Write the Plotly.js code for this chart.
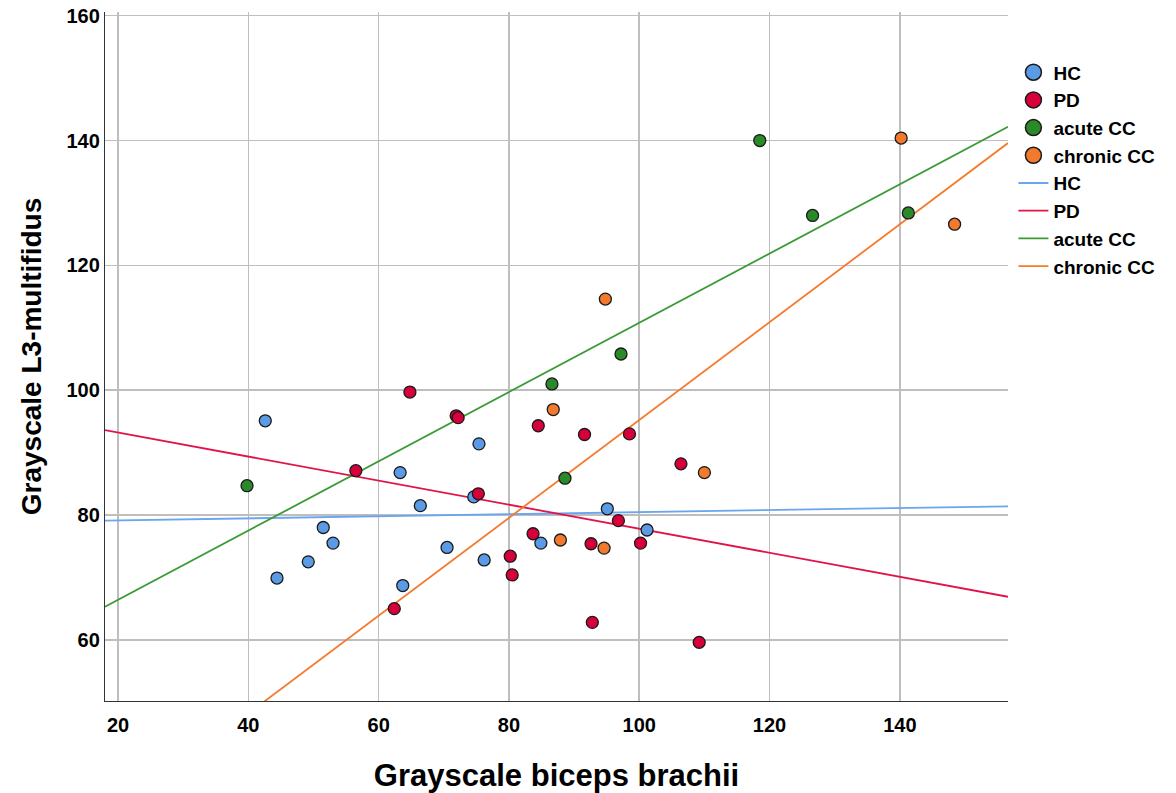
<!DOCTYPE html>
<html>
<head>
<meta charset="utf-8">
<script src="https://cdn.plot.ly/plotly-3.0.1.min.js"></script>
<style>html,body{margin:0;padding:0;background:#fff;}#chart{width:1176px;height:793px;}</style>
</head>
<body>
<div id="chart"></div>
<script>
// Group names
const groups = ["HC", "PD", "acute CC", "chronic CC"];

// HC points
const hcX = [42.6, 44.4, 49.2, 51.5, 53.0, 63.3, 63.7, 66.4, 70.5, 74.6, 75.4, 76.2, 84.9, 95.1, 101.2];
const hcY = [95.1, 69.9, 72.5, 78.0, 75.5, 86.8, 68.7, 81.5, 74.8, 82.9, 91.4, 72.8, 75.5, 81.0, 77.6];

// PD points
const pdX = [56.5, 62.4, 64.8, 71.9, 72.2, 75.3, 84.5, 91.6, 98.5, 106.4, 96.8, 83.7, 80.2, 80.5, 92.6, 100.2, 92.8, 109.2];
const pdY = [87.1, 65.0, 99.7, 95.9, 95.6, 83.4, 94.3, 92.9, 93.0, 88.2, 79.1, 77.0, 73.4, 70.4, 75.4, 75.5, 62.8, 59.6];

// acute CC points
const acX = [39.8, 86.6, 88.6, 97.2, 118.5, 126.6, 141.3];
const acY = [84.7, 101.0, 85.9, 105.8, 140.0, 128.0, 128.4];

// chronic CC points
const ccX = [86.8, 94.8, 87.9, 94.6, 110.0, 140.2, 148.4];
const ccY = [96.9, 114.6, 76.0, 74.7, 86.8, 140.4, 126.6];

// Fit line endpoints
const fitX = [18.0, 156.6];
const hcFitY = [79.1, 81.4];
const pdFitY = [93.6, 66.9];
const acFitY = [65.3, 142.2];
const ccFitY = [30.95, 139.6];

// Tick values
const xTicks = [20, 40, 60, 80, 100, 120, 140];
const yTicks = [60, 80, 100, 120, 140, 160];

const markerColors = ["#5B9BE6", "#D8003A", "#2A8A2A", "#F27A2E"];
const lineColors = ["#6AA6F0", "#E0144A", "#3A9A34", "#F57A2C"];

const ptsX = [hcX, pdX, acX, ccX];
const ptsY = [hcY, pdY, acY, ccY];
const fitsY = [hcFitY, pdFitY, acFitY, ccFitY];

const FONT = "Liberation Sans, Arial, sans-serif";

const traces = [];
// legend markers (legend only entries)
groups.forEach((g, i) => {
  traces.push({
    x: [null], y: [null], type: "scatter", mode: "markers", name: g,
    marker: {size: 20, color: markerColors[i], line: {color: "#1a1a1a", width: 1.5}},
    legendrank: i + 1, hoverinfo: "skip"
  });
});
// fit lines
groups.forEach((g, i) => {
  traces.push({
    x: fitX, y: fitsY[i], type: "scatter", mode: "lines", name: g,
    line: {color: lineColors[i], width: 1.8},
    legendrank: i + 5
  });
});
// points
groups.forEach((g, i) => {
  traces.push({
    x: ptsX[i], y: ptsY[i], type: "scatter", mode: "markers", name: g,
    showlegend: false, cliponaxis: false,
    marker: {size: 12, color: markerColors[i], line: {color: "#1a1a1a", width: 1.3}}
  });
});

const layout = {
  width: 1176, height: 793,
  margin: {l: 105, r: 168, t: 12, b: 92},
  paper_bgcolor: "#ffffff", plot_bgcolor: "#ffffff",
  font: {family: FONT, color: "#000"},
  showlegend: true,
  legend: {
    x: 1.006, xanchor: "left", y: 0.94, yanchor: "top",
    font: {size: 19, family: FONT, weight: "bold", color: "#000"},
    bgcolor: "rgba(0,0,0,0)", itemsizing: "trace", tracegroupgap: 0
  },
  xaxis: {
    range: [18.0, 156.6], tickvals: xTicks, ticktext: xTicks.map(String),
    showgrid: true, gridcolor: "#BEBEBE", gridwidth: 1.5, zeroline: false,
    showline: true, linecolor: "#333", linewidth: 1.2, ticks: "",
    ticklabelstandoff: 6,
    tickfont: {size: 20, family: FONT, weight: "bold"},
    title: {text: "Grayscale biceps brachii", standoff: 30,
      font: {size: 31, family: FONT, weight: "bold"}},
    automargin: false
  },
  yaxis: {
    range: [50.2, 160.6], tickvals: yTicks, ticktext: yTicks.map(String),
    showgrid: true, gridcolor: "#BEBEBE", gridwidth: 1.5, zeroline: false,
    showline: true, linecolor: "#333", linewidth: 1.2, ticks: "",
    tickfont: {size: 20, family: FONT, weight: "bold"},
    title: {text: "Grayscale L3-multifidus", standoff: 16,
      font: {size: 28, family: FONT, weight: "bold"}},
    automargin: false
  }
};

Plotly.newPlot("chart", traces, layout, {displayModeBar: false, staticPlot: true});
</script>
</body>
</html>
